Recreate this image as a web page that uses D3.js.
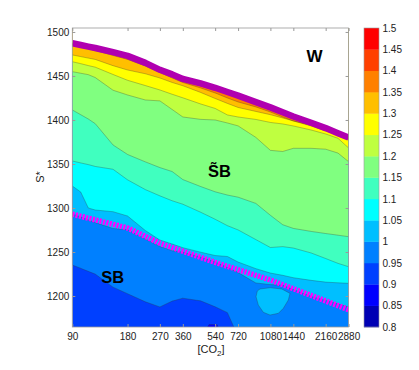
<!DOCTYPE html>
<html>
<head>
<meta charset="utf-8">
<script src="https://cdn.jsdelivr.net/npm/d3@7"></script>
<style>
body { margin: 0; background: #fff; }
svg { display: block; font-family: "Liberation Sans", Arial, sans-serif; }
</style>
</head>
<body>
<script>
// CO2 columns where the contour boundaries were read
const co2Cols = [90, 100, 110, 120, 150, 180, 225, 270, 315, 360, 450, 540, 630, 720, 900, 1080, 1260, 1440, 1800, 2160, 2520, 2880];

// S* of the border with the warm state (W), per column
const sWarm = [1487.2, 1485.2, 1483.4, 1481.8, 1477.0, 1472.8, 1464.9, 1457.0, 1451.8, 1446.6, 1441.5, 1436.6, 1431.8, 1427.7, 1420.3, 1414.3, 1408.8, 1404.0, 1396.8, 1390.8, 1385.0, 1380.1];

// S* of each contour level, per column (value grows with S*)
const s135 = [1485.8, 1483.3, 1481.0, 1479.0, 1473.3, 1468.8, 1461.4, 1454.0, 1447.7, 1442.6, 1436.4, 1430.7, 1425.0, 1420.5, 1414.8, 1409.1, 1403.4, 1398.9, 1393.2, 1387.5, 1383.0, 1378.4];
const s130 = [1473.9, 1472.0, 1470.3, 1468.8, 1461.7, 1456.8, 1452.5, 1447.7, 1442.6, 1438.9, 1431.3, 1424.4, 1418.8, 1414.2, 1409.7, 1406.0, 1402.3, 1398.9, 1394.3, 1389.8, 1384.7, 1377.3];
const s125 = [1466.2, 1464.0, 1461.8, 1460.0, 1451.7, 1445.1, 1439.1, 1434.1, 1429.2, 1425.2, 1418.2, 1413.1, 1405.7, 1403.4, 1400.6, 1397.2, 1395.5, 1393.2, 1388.6, 1384.1, 1379.2, 1368.2];
const s120 = [1454.9, 1453.1, 1451.5, 1448.2, 1433.8, 1428.4, 1422.7, 1421.7, 1411.9, 1403.4, 1400.7, 1400.0, 1396.6, 1393.3, 1380.2, 1365.5, 1364.2, 1367.8, 1367.8, 1366.8, 1362.4, 1352.6];
const s115 = [1411.4, 1406.0, 1401.1, 1395.8, 1371.6, 1360.8, 1352.4, 1345.9, 1341.4, 1332.3, 1324.4, 1318.4, 1314.7, 1312.3, 1305.2, 1291.7, 1281.0, 1276.8, 1273.4, 1271.0, 1269.1, 1267.4];
const s110 = [1353.4, 1351.2, 1349.3, 1347.2, 1344.0, 1332.0, 1320.9, 1313.8, 1308.2, 1304.3, 1295.2, 1287.2, 1279.9, 1275.1, 1264.1, 1255.1, 1256.1, 1254.5, 1248.9, 1242.6, 1237.1, 1233.3];
const s105 = [1325.0, 1318.2, 1300.0, 1297.7, 1295.8, 1290.9, 1274.4, 1263.6, 1259.1, 1254.9, 1249.8, 1246.0, 1244.9, 1238.6, 1231.1, 1226.1, 1223.5, 1220.8, 1217.8, 1215.8, 1215.0, 1214.4];
const s100 = [1293.2, 1289.8, 1286.4, 1283.5, 1276.7, 1275.2, 1264.8, 1256.3, 1251.5, 1249.8, 1244.1, 1238.6, 1232.4, 1226.7, 1214.8, 1213.0, 1212.2, 1207.3, 1199.5, 1194.9, 1190.9, 1187.5];
const s095 = [1235.2, 1231.5, 1228.0, 1224.9, 1210.1, 1202.6, 1193.4, 1187.6, 1194.2, 1197.5, 1194.5, 1187.8, 1181.1, 1154, 1150, 1150, 1150, 1150, 1150, 1150, 1150, 1150];

// closed pockets [co2, S*]
const island100 = [[916, 1205.7], [948, 1208], [1075, 1209.4], [1245, 1208], [1381, 1203], [1352, 1195.5], [1270, 1186], [1193, 1180.3], [1075, 1178.4], [988, 1181.5], [928, 1189.8], [902, 1199.2]];
const patch085 = [[475, 1160], [500, 1167.6], [553, 1167.6], [574, 1160]];

// snowball limit (dashed magenta)
const dashCo2 = [90, 180, 270, 540, 1080, 2880];
const dashS = [1293, 1277.3, 1259.9, 1238.2, 1218.2, 1184.5];

// colour bands
const bandLevels = [0.8, 0.85, 0.9, 0.95, 1.0, 1.05, 1.1, 1.15, 1.2, 1.25, 1.3, 1.35, 1.4, 1.45];
const bandColors = ["#0000b4", "#0000ff", "#0040ff", "#0080ff", "#00bfff", "#00ffff", "#40ffbf", "#80ff80", "#bfff40", "#ffff00", "#ffbf00", "#ff8000", "#ff4000", "#ff0000"];

const xTicks = [90, 180, 270, 360, 540, 720, 1080, 1440, 2160, 2880];
const yTicks = [1200, 1250, 1300, 1350, 1400, 1450, 1500];
const cbTicks = [0.8, 0.85, 0.9, 0.95, 1, 1.05, 1.1, 1.15, 1.2, 1.25, 1.3, 1.35, 1.4, 1.45, 1.5];

const levelLines = [
    { lvl: 0.95, s: s095 }, { lvl: 1.0, s: s100 }, { lvl: 1.05, s: s105 },
    { lvl: 1.1, s: s110 }, { lvl: 1.15, s: s115 }, { lvl: 1.2, s: s120 },
    { lvl: 1.25, s: s125 }, { lvl: 1.3, s: s130 }, { lvl: 1.35, s: s135 }
];

const width = 419, height = 370;
const svg = d3.select("body").append("svg")
    .attr("width", width)
    .attr("height", height);

const x = d3.scaleLog().domain([90, 2880]).range([72.3, 348.6]);
const y = d3.scaleLinear().domain([1164.8, 1504.5]).range([327, 28]);
const pLeft = x.range()[0], pRight = x.range()[1];
const pTop = y.range()[1], pBottom = y.range()[0];

const colorOf = lvl => bandColors[bandLevels.findIndex(v => Math.abs(v - lvl) < 1e-6)];

svg.append("clipPath").attr("id", "plotClip")
    .append("rect")
    .attr("x", pLeft).attr("y", pTop)
    .attr("width", pRight - pLeft).attr("height", pBottom - pTop);

const plot = svg.append("g").attr("clip-path", "url(#plotClip)");

// fondo = banda 0.9-0.95
plot.append("rect")
    .attr("x", pLeft).attr("y", pTop)
    .attr("width", pRight - pLeft).attr("height", pBottom - pTop)
    .attr("fill", colorOf(0.9));

const areaAbove = d3.area()
    .x(d => x(d[0]))
    .y0(d => y(d[1]))
    .y1(pTop - 10);

const lineGen = d3.line()
    .x(d => x(d[0]))
    .y(d => y(d[1]));
const loopGen = d3.line()
    .x(d => x(d[0]))
    .y(d => y(d[1]))
    .curve(d3.curveLinearClosed);

// each band fills everything above its lower contour
levelLines.forEach(L => {
    const pts = co2Cols.map((c, i) => [c, L.s[i]]);
    plot.append("path")
        .datum(pts)
        .attr("fill", colorOf(L.lvl))
        .attr("d", areaAbove);
});

// pockets
plot.append("path")
    .datum(patch085)
    .attr("fill", colorOf(0.85))
    .attr("stroke", "#333").attr("stroke-opacity", 0.6).attr("stroke-width", 0.5)
    .attr("d", loopGen);
plot.append("path")
    .datum(island100)
    .attr("fill", colorOf(1.0))
    .attr("stroke", "#333").attr("stroke-opacity", 0.6).attr("stroke-width", 0.5)
    .attr("d", loopGen);

// contour lines
levelLines.forEach(L => {
    const pts = co2Cols.map((c, i) => [c, L.s[i]]);
    plot.append("path")
        .datum(pts)
        .attr("fill", "none")
        .attr("stroke", "#333")
        .attr("stroke-opacity", 0.6)
        .attr("stroke-width", 0.5)
        .attr("d", lineGen);
});

// warm state region (blank) and its border
const warmPts = co2Cols.map((c, i) => [c, sWarm[i]]);
plot.append("path")
    .datum(warmPts)
    .attr("fill", "#fff")
    .attr("d", areaAbove);
plot.append("path")
    .datum(warmPts)
    .attr("fill", "none")
    .attr("stroke", "#b000b0")
    .attr("stroke-width", 6.5)
    .attr("stroke-linejoin", "round")
    .attr("d", lineGen);

// dashed snowball limit
plot.append("path")
    .datum(dashCo2.map((c, i) => [c, dashS[i]]))
    .attr("fill", "none")
    .attr("stroke", "#ff00ff")
    .attr("stroke-width", 5.5)
    .attr("stroke-dasharray", "2.2,1.3")
    .attr("d", lineGen);

// axes (MATLAB style, ticks inward on all sides)
const axisColor = "#999";
const styleAxis = g => {
    g.select(".domain").remove();
    g.selectAll(".tick line").attr("stroke", axisColor);
    g.selectAll(".tick text")
        .attr("fill", "#222")
        .style("font-size", "10px")
        .style("font-family", "'Liberation Sans', Arial, sans-serif");
};

svg.append("g")
    .attr("transform", `translate(0,${pBottom})`)
    .call(d3.axisBottom(x).tickValues(xTicks).tickFormat(d3.format("d")).tickSize(-3).tickPadding(6))
    .call(styleAxis);
svg.append("g")
    .attr("transform", `translate(0,${pTop})`)
    .call(d3.axisTop(x).tickValues(xTicks).tickFormat("").tickSize(-3))
    .call(styleAxis);
svg.append("g")
    .attr("transform", `translate(${pLeft},0)`)
    .call(d3.axisLeft(y).tickValues(yTicks).tickFormat(d3.format("d")).tickSize(-3).tickPadding(3))
    .call(styleAxis);
svg.append("g")
    .attr("transform", `translate(${pRight},0)`)
    .call(d3.axisRight(y).tickValues(yTicks).tickFormat("").tickSize(-3))
    .call(styleAxis);

svg.append("rect")
    .attr("x", pLeft).attr("y", pTop)
    .attr("width", pRight - pLeft).attr("height", pBottom - pTop)
    .attr("fill", "none")
    .attr("stroke", axisColor)
    .attr("stroke-width", 0.8);

// region labels
svg.append("text")
    .attr("x", 314.5).attr("y", 61.5)
    .attr("text-anchor", "middle")
    .style("font-size", "17px").style("font-weight", "bold")
    .text("W");
svg.append("text")
    .attr("x", 112.8).attr("y", 282.5)
    .attr("text-anchor", "middle")
    .style("font-size", "16.5px").style("font-weight", "bold")
    .text("SB");
svg.append("text")
    .attr("x", 219.5).attr("y", 176.5)
    .attr("text-anchor", "middle")
    .style("font-size", "16.5px").style("font-weight", "bold")
    .text("S\u0303B");

// axis titles
svg.append("text")
    .attr("transform", "translate(43.5,177) rotate(-90)")
    .attr("text-anchor", "middle")
    .attr("fill", "#222")
    .style("font-size", "11px")
    .text("S*");
const xt = svg.append("text")
    .attr("x", 211).attr("y", 353)
    .attr("text-anchor", "middle")
    .attr("fill", "#222")
    .style("font-size", "11px");
xt.append("tspan").text("[CO");
xt.append("tspan").attr("dy", 3).style("font-size", "8px").text("2");
xt.append("tspan").attr("dy", -3).text("]");

// colorbar
const cb = d3.scaleLinear().domain([0.8, 1.5]).range([327, 28]);
const cbX = 364, cbW = 15;
svg.append("g").selectAll("rect")
    .data(bandLevels)
    .join("rect")
    .attr("x", cbX)
    .attr("y", d => cb(d + 0.05))
    .attr("width", cbW)
    .attr("height", d => cb(d) - cb(d + 0.05) + 0.3)
    .attr("fill", (d, i) => bandColors[i]);
svg.append("rect")
    .attr("x", cbX).attr("y", cb(1.5))
    .attr("width", cbW).attr("height", cb(0.8) - cb(1.5))
    .attr("fill", "none")
    .attr("stroke", axisColor)
    .attr("stroke-width", 0.6);
svg.append("g")
    .attr("transform", `translate(${cbX + cbW},0)`)
    .call(d3.axisRight(cb).tickValues(cbTicks).tickFormat(d => String(d)).tickSize(0).tickPadding(3.5))
    .call(styleAxis);
</script>
</body>
</html>
